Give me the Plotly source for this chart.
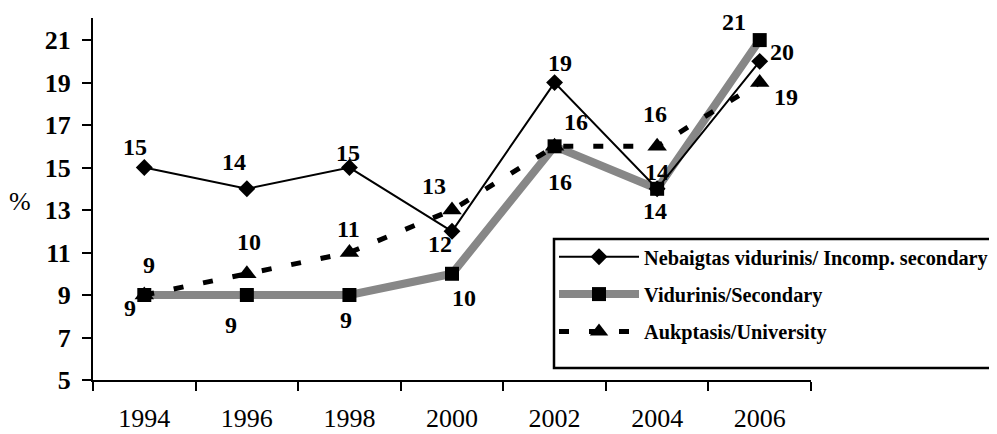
import plotly.graph_objects as go

years = ["1994", "1996", "1998", "2000", "2002", "2004", "2006"]
incomp_secondary = [15, 14, 15, 12, 19, 14, 20]
secondary = [9, 9, 9, 10, 16, 14, 21]
university = [9, 10, 11, 13, 16, 16, 19]

names = ["Nebaigtas vidurinis/ Incomp. secondary", "Vidurinis/Secondary", "Aukptasis/University"]
y_ticks = [5, 7, 9, 11, 13, 15, 17, 19, 21]

# label offsets in pixels (dx right, dy down) from each point
off_incomp = [(-9, -21), (-13, -27), (-1, -15), (-12, 13), (5, -20), (0, -17), (22, -9)]
off_secondary = [(-14, 13), (-16, 30), (-3, 25), (12, 24), (5, 36), (-2, 22), (-26, -18)]
off_univ = [(5, -30), (2, -32), (-1, -24), (-18, -24), (21, -24), (-2, -32), (26, 14)]

serif = "Liberation Serif"
lab_font = dict(family=serif, size=24, color="black", weight="bold")

fig = go.Figure()
fig.add_trace(go.Scatter(
    x=years, y=secondary, name=names[1], mode="lines+markers",
    line=dict(color="#878787", width=8),
    marker=dict(symbol="square", size=14, color="black"),
    legendrank=2, legendgroup="b", cliponaxis=False))
fig.add_trace(go.Scatter(
    x=years, y=university, name=names[2], mode="lines+markers",
    line=dict(color="black", width=5, dash="10px,20px"),
    marker=dict(symbol="triangle-up", size=17, color="black"),
    legendrank=3, legendgroup="c", cliponaxis=False))
fig.add_trace(go.Scatter(
    x=years, y=incomp_secondary, name=names[0], mode="lines+markers",
    line=dict(color="black", width=2),
    marker=dict(symbol="diamond", size=13, color="black"),
    legendrank=1, legendgroup="a", cliponaxis=False))

annotations = []
for vals, offs in ((incomp_secondary, off_incomp), (secondary, off_secondary), (university, off_univ)):
    for i, (v, (dx, dy)) in enumerate(zip(vals, offs)):
        annotations.append(dict(x=i, y=v, xref="x", yref="y", text=str(v), showarrow=False,
                                xanchor="center", yanchor="middle", xshift=dx, yshift=-dy,
                                font=dict(lab_font)))
annotations.append(dict(text="%", xref="paper", yref="y", x=-73/718, y=13.4,
                        xanchor="center", yanchor="middle", showarrow=False,
                        font=dict(family=serif, size=26, color="black")))

# legend frame (page px -> paper coords: plot spans x 93..811, y 18..380)
def px_x(p):
    return (p - 93) / 718

def px_y(p):
    return (380 - p) / 362

shapes = [dict(type="rect", xref="paper", yref="paper",
               x0=px_x(554), x1=px_x(995), y0=px_y(368), y1=px_y(239),
               line=dict(color="black", width=2.5), fillcolor="white", layer="above")]

fig.update_layout(
    width=989, height=426,
    margin=dict(l=85, r=186, t=10, b=54, autoexpand=False),
    paper_bgcolor="white", plot_bgcolor="white",
    font=dict(family=serif, color="black"),
    showlegend=True,
    legend=dict(x=px_x(554), y=px_y(237), xanchor="left", yanchor="top",
                bgcolor="rgba(0,0,0,0)", borderwidth=0,
                font=dict(family=serif, size=20.3, color="black", weight="bold"),
                tracegroupgap=8, itemwidth=80),
    xaxis=dict(type="category", range=[-0.5, 6.5], tickson="boundaries",
               ticks="outside", ticklen=9, tickwidth=2, tickcolor="black",
               showline=True, linecolor="black", linewidth=2, showgrid=False,
               tickfont=dict(family=serif, size=26, color="black"),
               ticklabelstandoff=14, zeroline=False, automargin=False),
    yaxis=dict(range=[5, 22.04], tickvals=y_ticks,
               ticks="outside", ticklen=9, tickwidth=2, tickcolor="black",
               showline=True, linecolor="black", linewidth=2, showgrid=False,
               tickfont=dict(family=serif, size=26, color="black", weight="bold"),
               ticklabelstandoff=6, zeroline=False, automargin=False),
    annotations=annotations,
    shapes=shapes,
)

fig.write_html("out.html")
